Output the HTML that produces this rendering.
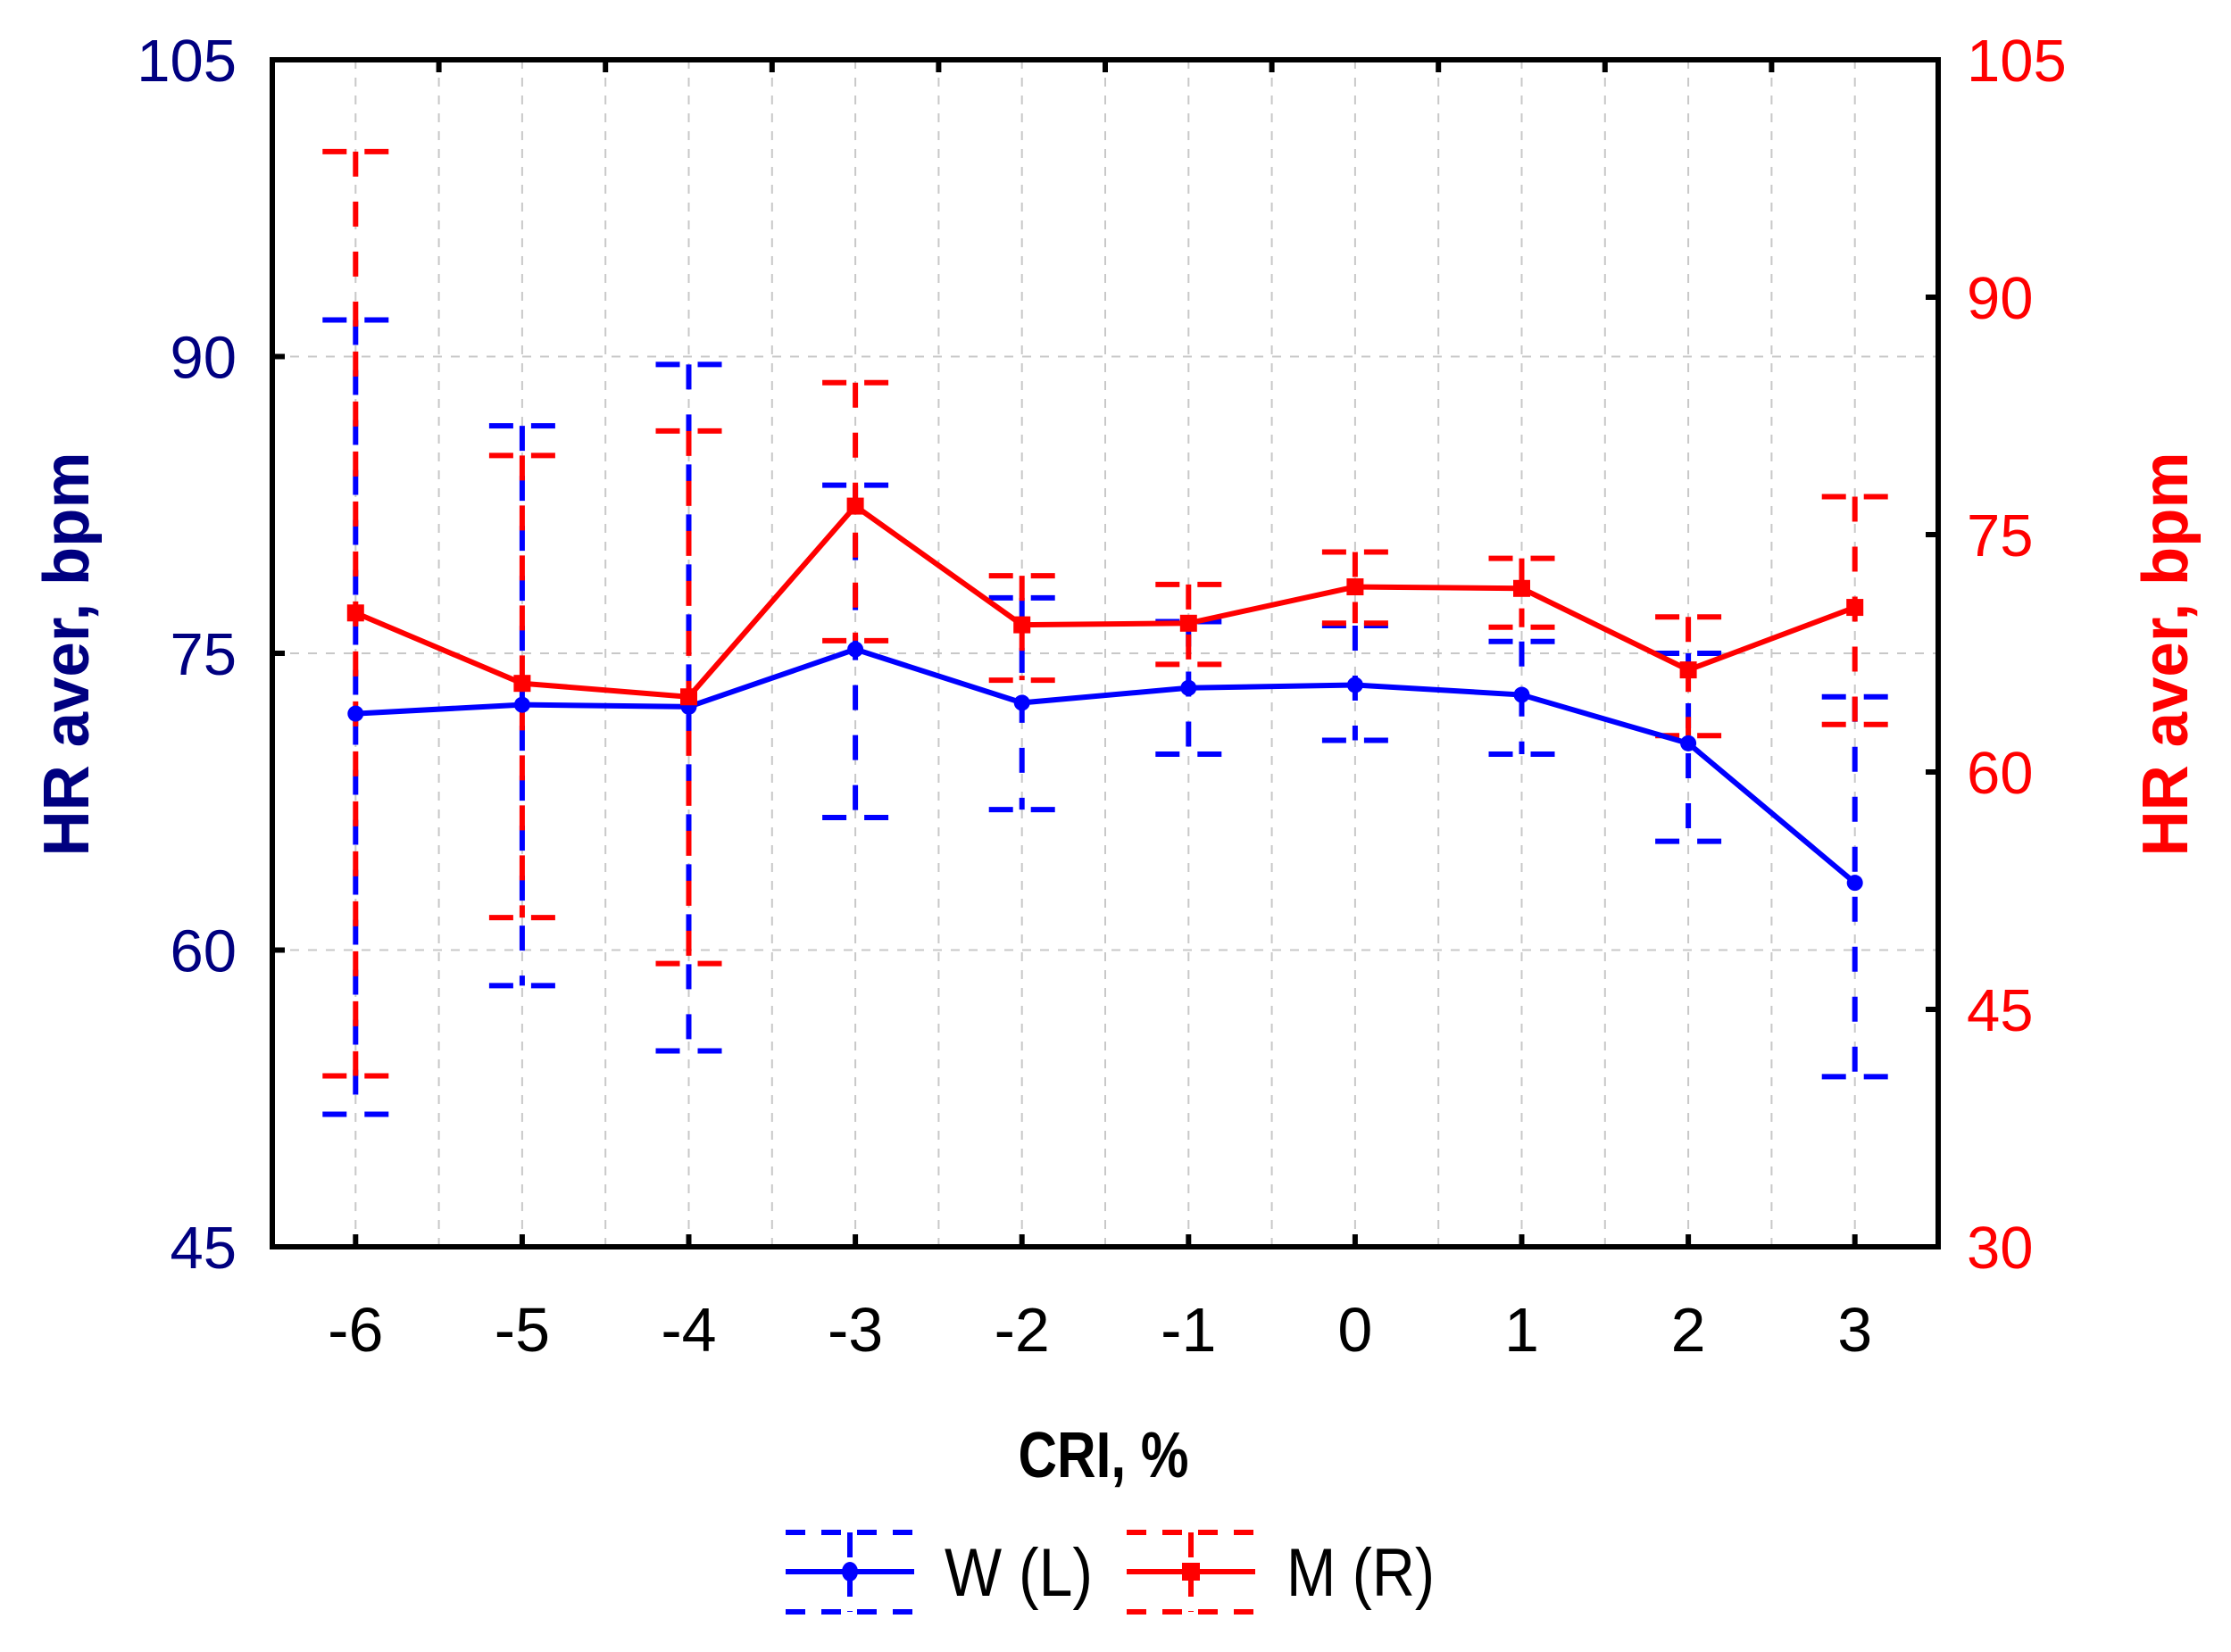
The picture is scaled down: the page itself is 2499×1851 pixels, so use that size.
<!DOCTYPE html>
<html><head><meta charset="utf-8"><style>
html,body{margin:0;padding:0;background:#fff;}
svg{display:block;}
text{font-family:"Liberation Sans",sans-serif;}
</style></head><body>
<svg id="chart" width="2499" height="1851" viewBox="0 0 2499 1851" xmlns="http://www.w3.org/2000/svg">
<rect x="0" y="0" width="2499" height="1851" fill="#fff"/>
<g id="grid"></g>
<g id="bars"></g>
<g id="series"></g>
<g id="axes"></g>
<text x="99" y="733" transform="rotate(-90 99 733)" text-anchor="middle" font-weight="bold" font-size="72" fill="#000080" textLength="453" lengthAdjust="spacingAndGlyphs">HR aver, bpm</text>
<text x="2450" y="733" transform="rotate(-90 2450 733)" text-anchor="middle" font-weight="bold" font-size="72" fill="#ff0000" textLength="453" lengthAdjust="spacingAndGlyphs">HR aver, bpm</text>
<text x="1236" y="1655" text-anchor="middle" font-weight="bold" font-size="72" fill="#000" textLength="191" lengthAdjust="spacingAndGlyphs">CRI, %</text>
<g id="legend"></g>
</svg>
<script>
const categories = ["-6","-5","-4","-3","-2","-1","0","1","2","3"];
const wMean = [71.95,72.4,72.3,75.2,72.5,73.25,73.4,72.9,70.45,63.4];
const wUpper = [91.85,86.5,89.6,83.5,77.8,76.6,76.4,75.6,75.0,72.8];
const wLower = [51.7,58.2,54.9,66.7,67.1,69.9,70.6,69.9,65.5,53.6];
const mMean = [70.05,65.6,64.75,76.8,69.3,69.4,71.7,71.6,66.45,70.4];
const mUpper = [99.2,80.0,81.55,84.6,72.4,71.85,73.9,73.5,69.8,77.4];
const mLower = [40.8,50.8,47.9,68.3,65.8,66.8,69.4,69.15,62.3,63.0];
const leftTicks = [45,60,75,90,105];
const rightTicks = [30,45,60,75,90,105];

const NS="http://www.w3.org/2000/svg";
const L=305,R=2171,T=67,B=1397;
const n=categories.length;
function xs(i){return L+(i+0.5)*(R-L)/n;}
function yl(v){return B-(v-45)/60*(B-T);}
function yr(v){return B-(v-30)/75*(B-T);}
function mk(tag,attrs,parent){const e=document.createElementNS(NS,tag);for(const k in attrs)e.setAttribute(k,attrs[k]);parent.appendChild(e);return e;}
const grid=document.getElementById('grid'),bars=document.getElementById('bars'),ser=document.getElementById('series'),axes=document.getElementById('axes'),leg=document.getElementById('legend');

// grid
for(let k=0;k<=2*(n-1);k++){
  const x=xs(k/2);
  const g=mk('line',{x1:x,x2:x,y1:T,y2:B,stroke:'#c8c8c8','stroke-width':2,'stroke-dasharray':'10,10'},grid);
  
  
}
[60,75,90].forEach(v=>{
  const g=mk('line',{x1:L,x2:R,y1:yl(v),y2:yl(v),stroke:'#c8c8c8','stroke-width':2,'stroke-dasharray':'10,10'},grid);
  
  
});

function errBar(x,yU,yD,color,name){
  const v=mk('line',{x1:x,x2:x,y1:yU,y2:yD,stroke:color,'stroke-width':6,'stroke-dasharray':'28,28'},bars);
  
  
  [yU,yD].forEach(y=>{
    const c1=mk('line',{x1:x-37,x2:x-10,y1:y,y2:y,stroke:color,'stroke-width':6},bars);
    
    
    const c2=mk('line',{x1:x+10,x2:x+37,y1:y,y2:y,stroke:color,'stroke-width':6},bars);
    
    
  });
}
for(let i=0;i<n;i++){
  errBar(xs(i),yl(wUpper[i]),yl(wLower[i]),'#0000ff','w');
  errBar(xs(i),yr(mUpper[i]),yr(mLower[i]),'#ff0000','m');
}
// lines
const wp=wMean.map((v,i)=>xs(i)+','+yl(v)).join(' ');
const wl=mk('polyline',{points:wp,fill:'none',stroke:'#0000ff','stroke-width':6},ser);


const mp=mMean.map((v,i)=>xs(i)+','+yr(v)).join(' ');
const ml=mk('polyline',{points:mp,fill:'none',stroke:'#ff0000','stroke-width':6},ser);


for(let i=0;i<n;i++){
  const c=mk('circle',{cx:xs(i),cy:yl(wMean[i]),r:9,fill:'#0000ff'},ser);
  
  
  const s=mk('rect',{x:xs(i)-9.5,y:yr(mMean[i])-9.5,width:19,height:19,fill:'#ff0000'},ser);
  
  
}
// axes frame
const fr=mk('rect',{x:L,y:T,width:R-L,height:B-T,fill:'none',stroke:'#000','stroke-width':6},axes);


leftTicks.forEach(v=>{
  const y=yl(v);
  const t=mk('line',{x1:L,x2:L+14,y1:y,y2:y,stroke:'#000','stroke-width':6},axes);
  
  
  const tx=mk('text',{x:265,y:y+24,'text-anchor':'end','font-size':67,fill:'#000080'},axes);
  tx.textContent=String(v);
  
  
});
rightTicks.forEach(v=>{
  const y=yr(v);
  const t=mk('line',{x1:R-14,x2:R,y1:y,y2:y,stroke:'#000','stroke-width':6},axes);
  
  
  const tx=mk('text',{x:2203,y:y+24,'text-anchor':'start','font-size':67,fill:'#ff0000'},axes);
  tx.textContent=String(v);
  
  
});
categories.forEach((c,i)=>{
  const x=xs(i);
  const t=mk('line',{x1:x,x2:x,y1:B-14,y2:B,stroke:'#000','stroke-width':6},axes);
  
  
  const tx=mk('text',{x:x,y:1514,'text-anchor':'middle','font-size':70,fill:'#000'},axes);
  tx.textContent=c;
  
  
  if(i<n-1){
    const tt=mk('line',{x1:xs(i+0.5),x2:xs(i+0.5),y1:T,y2:T+14,stroke:'#000','stroke-width':6},axes);
    
    
  }
});
// legend
function legItem(x0,color,label,tx,isSquare,name){
  const cx=x0+72,yl0=1761;
  const g=mk('g',{},leg);
  
  
  mk('line',{x1:x0,x2:x0+144,y1:yl0,y2:yl0,stroke:color,'stroke-width':6},g);
  mk('line',{x1:cx,x2:cx,y1:1717,y2:1806,stroke:color,'stroke-width':6,'stroke-dasharray':'28,16'},g);
  mk('line',{x1:x0,x2:x0+144,y1:1717,y2:1717,stroke:color,'stroke-width':6,'stroke-dasharray':'22,18'},g);
  mk('line',{x1:x0,x2:x0+144,y1:1806,y2:1806,stroke:color,'stroke-width':6,'stroke-dasharray':'22,18'},g);
  if(isSquare) mk('rect',{x:cx-10,y:yl0-10,width:20,height:20,fill:color},g);
  else mk('ellipse',{cx:cx,cy:yl0,rx:9,ry:11,fill:color},g);
  const t=mk('text',{x:tx,y:1788,'font-size':76,fill:'#000',textLength:166,lengthAdjust:'spacingAndGlyphs'},g);
  t.textContent=label;
}
legItem(880,'#0000ff','W (L)',1058,false,'w');
legItem(1262,'#ff0000','M (R)',1441,true,'m');
</script>
</body></html>
